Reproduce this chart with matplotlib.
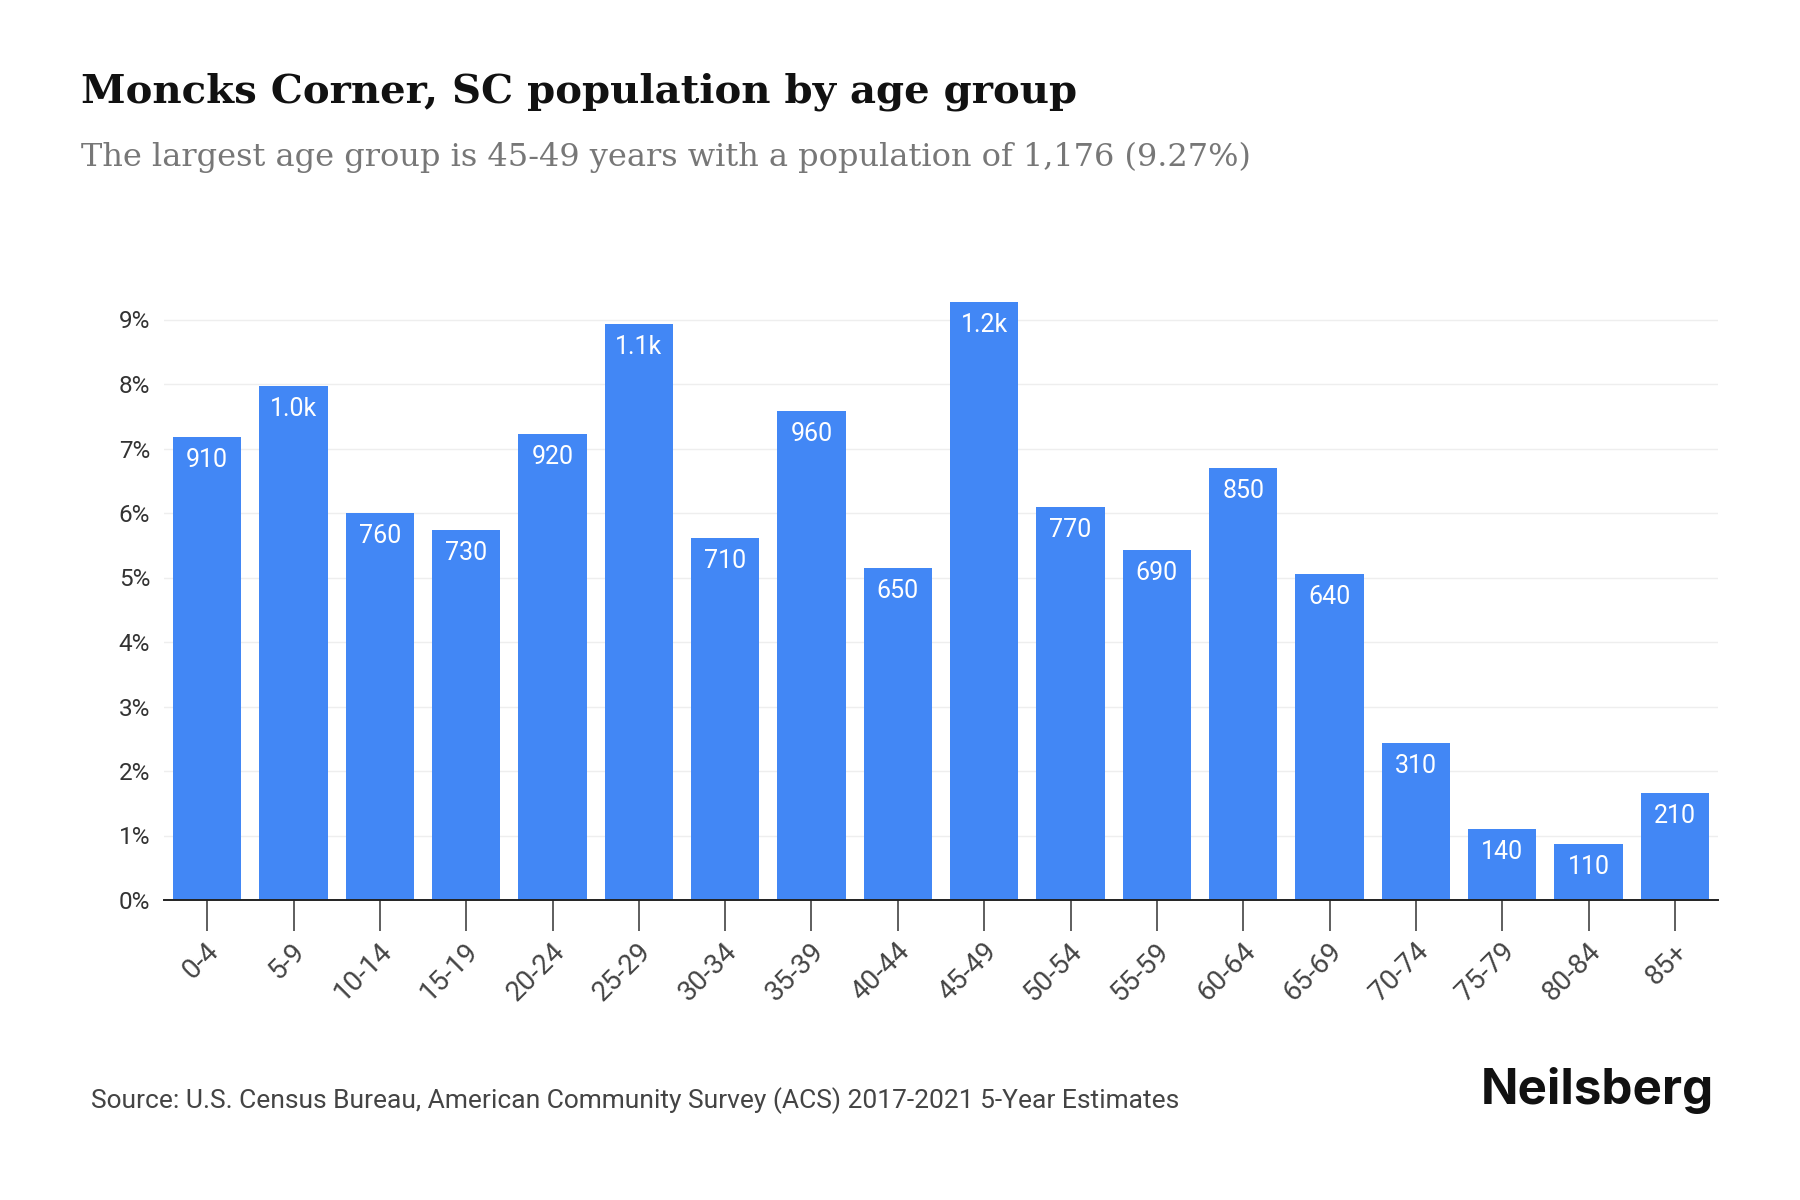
import matplotlib
matplotlib.use("Agg")
import matplotlib.pyplot as plt
import matplotlib.transforms as mtransforms

# age groups and estimated population counts
age_groups = ["0-4", "5-9", "10-14", "15-19", "20-24", "25-29", "30-34", "35-39",
              "40-44", "45-49", "50-54", "55-59", "60-64", "65-69", "70-74",
              "75-79", "80-84", "85+"]
population = [910, 1011, 760, 728, 916, 1133, 712, 962, 652, 1176, 772, 688,
              849, 640, 308, 140, 110, 210]
yticks = [0, 1, 2, 3, 4, 5, 6, 7, 8, 9]

total = sum(population)
pct = [p / total * 100 for p in population]


def fmt(v):
    if v >= 1000:
        return f"{v / 1000:.1f}k"
    return f"{int(round(v, -1))}"


bar_color = "#4287f5"

fig = plt.figure(figsize=(18, 12), dpi=100)
ax = fig.add_axes([164 / 1800, 0.25, 1554 / 1800, 9.6 * 64.5 / 1200])

x = range(len(age_groups))
bars = ax.bar(x, pct, width=0.79, color=bar_color, zorder=2)

for xi, p, v in zip(x, pct, population):
    ax.annotate(fmt(v), (xi, p), xytext=(0, -8), textcoords="offset points",
                ha="center", va="top", color="white", fontsize=18,
                family="Roboto", zorder=3)

ax.set_xlim(-0.5, len(age_groups) - 0.5)
ax.set_ylim(0, 9.6)
ax.set_yticks(yticks)
ax.set_yticklabels([f"{t}%" for t in yticks], family="Roboto", fontsize=17.5,
                   color="#333333")
ax.tick_params(axis="y", length=0, pad=10)
ax.grid(axis="y", color="#eeeeee", lw=1, zorder=0)

ax.set_xticks(list(x))
ax.set_xticklabels(age_groups, rotation=45, ha="right", va="center",
                   rotation_mode="anchor", family="Roboto", fontsize=20,
                   color="#444444")
ax.tick_params(axis="x", length=22, width=1.1, color="#333333", pad=12)
offset = mtransforms.ScaledTranslation(8 / 100, 0, fig.dpi_scale_trans)
for lbl in ax.get_xticklabels():
    lbl.set_transform(lbl.get_transform() + offset)

for s in ["top", "right", "left"]:
    ax.spines[s].set_visible(False)
ax.spines["bottom"].set_color("#222222")
ax.spines["bottom"].set_linewidth(1.4)

fig.text(81 / 1800, 1 - 92 / 1200, "Moncks Corner, SC population by age group",
         family="DejaVu Serif", fontweight="bold", fontsize=29, va="center",
         color="#111111")
fig.text(81 / 1800, 1 - 157 / 1200,
         "The largest age group is 45-49 years with a population of 1,176 (9.27%)",
         family="DejaVu Serif", fontsize=23, va="center", color="#777777")

fig.text(91 / 1800, 1 - 1101 / 1200,
         "Source: U.S. Census Bureau, American Community Survey (ACS) 2017-2021 5-Year Estimates",
         family="Roboto", fontsize=19, va="center", color="#444444")
fig.text(1714 / 1800, 1 - 1090 / 1200, "Neilsberg", family="Inter",
         fontweight="bold", fontsize=35.5, va="center", ha="right", color="#111111")

fig.savefig("out.png", dpi=100)
